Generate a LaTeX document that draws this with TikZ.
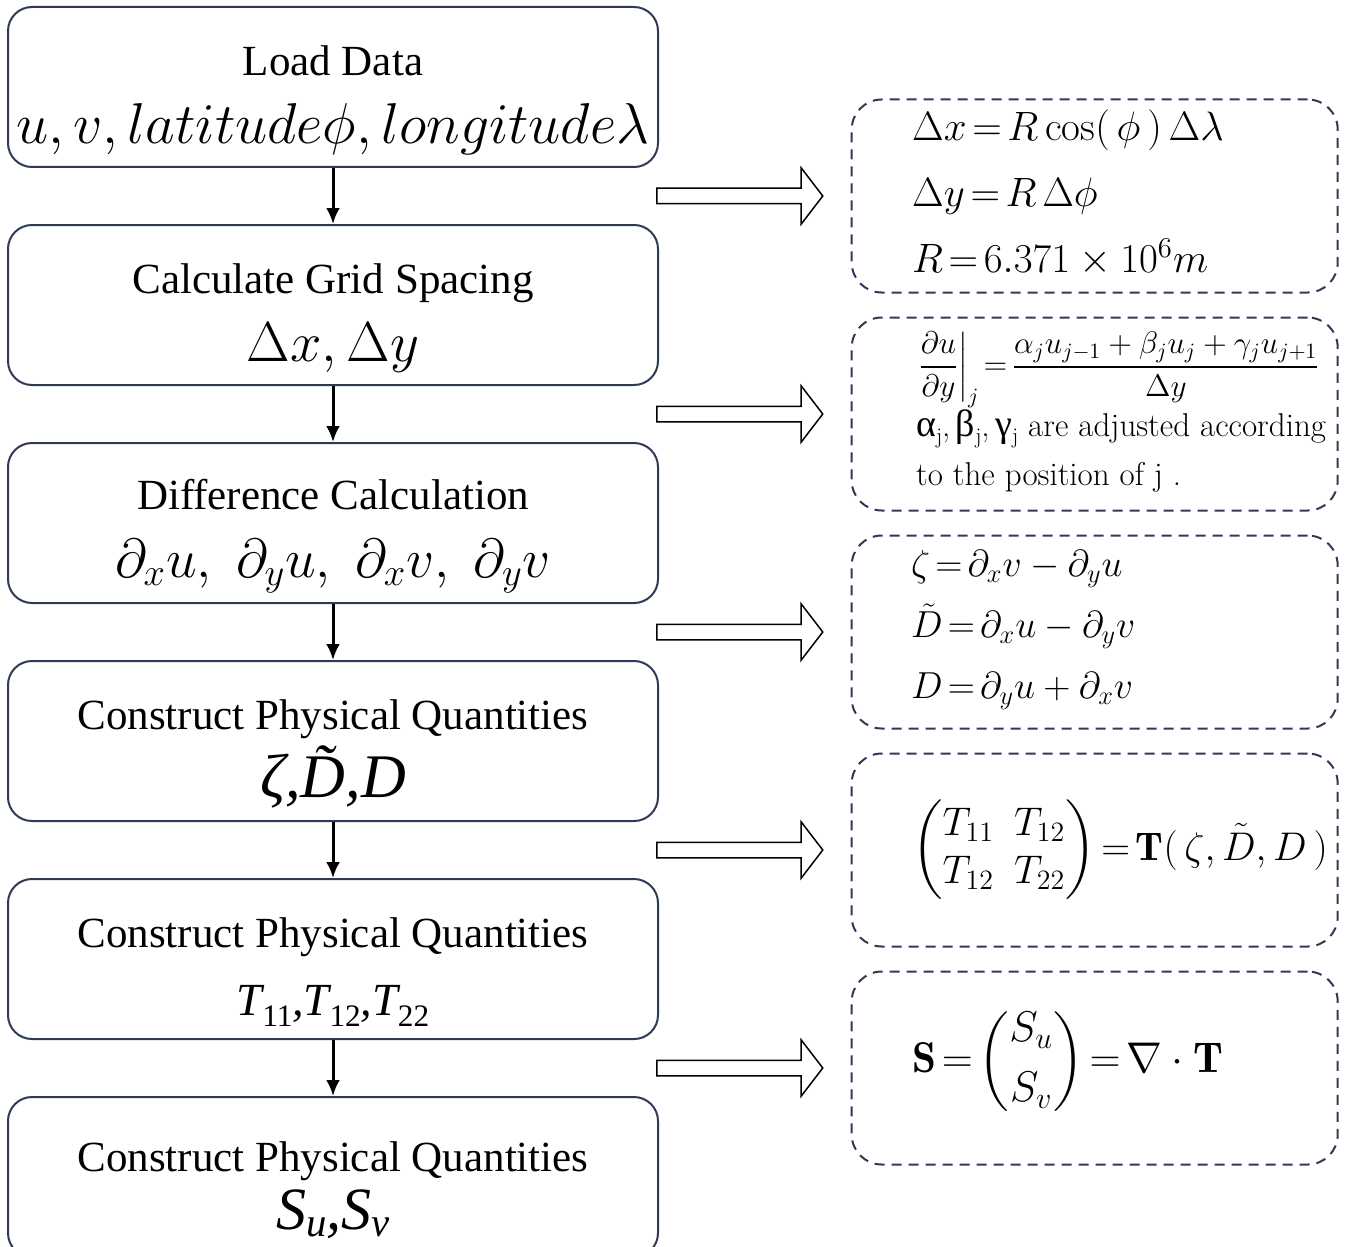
\RequirePackage{fix-cm}
\documentclass[tikz,border=0pt]{standalone}
\usepackage{amsmath}
\usepackage{fontspec}
\usepackage{graphicx}
\usepackage{tikz}
\usetikzlibrary{arrows.meta,positioning,calc,shapes.arrows}
\newfontfamily\tnr{Liberation Serif}
\newfontfamily\grk{Liberation Serif}
\definecolor{boxline}{HTML}{2E3A56}
\newcommand{\lowsub}[2][0.22em]{\raisebox{-#1}{\scalebox{0.68}{#2}}}
\newcommand{\tstrut}{\rule{0pt}{28pt}}
\newcommand{\upg}[1]{{\grk\fontsize{19}{24}\selectfont #1}\lowsub{j}}

\begin{document}
\begin{tikzpicture}[
x=1pt, y=1pt,
node distance=28pt,
block/.style={draw=boxline, line width=1pt, rounded corners=12pt, minimum width=325pt, minimum height=80pt, align=center, inner sep=0pt, font=\tnr\fontsize{21.5}{34}\selectfont},
dbox/.style={draw=boxline, line width=1pt, dash pattern=on 5pt off 3.5pt, rounded corners=15pt, minimum width=243pt, minimum height=96.5pt},
hollow/.style={single arrow, draw, line width=0.75pt, minimum height=83pt, minimum width=0pt, inner xsep=0pt, inner ysep=3.5pt, single arrow head extend=10.25pt, single arrow tip angle=105, anchor=tail},
eqn/.style={anchor=west, align=left, inner sep=0pt, execute at begin node={\thickmuskip=2.5mu}},
arrow/.style={-{Latex[length=8pt,width=7pt]}, line width=1.5pt}
]
\useasboundingbox (0,0) rectangle (676,-623);

% left column
\node[block] (b1) at (166.5,-43.5) {\tstrut Load Data\\{\fontsize{28.8}{34}\selectfont $u,v,latitude\phi,longitude\lambda$}};
\node[block, below=of b1] (b2) {\tstrut Calculate Grid Spacing\\{\fontsize{28.2}{34}\selectfont $\Delta x,\Delta y$}};
\node[block, below=of b2] (b3) {\tstrut Difference Calculation\\{\fontsize{27.5}{34}\selectfont $\partial_x u,\;\partial_y u,\;\partial_x v,\;\partial_y v$}};
\node[block, below=of b3] (b4) {\tstrut Construct Physical Quantities\\{\fontsize{31}{34}\selectfont\itshape ζ,D̃,D}};
\node[block, below=of b4] (b5) {\tstrut Construct Physical Quantities\\{\fontsize{23}{34}\selectfont\itshape T\lowsub{\upshape 11},T\lowsub{\upshape 12},T\lowsub{\upshape 22}}};
\node[block, below=of b5] (b6) {\tstrut Construct Physical Quantities\\[-5pt]{\fontsize{30}{29}\selectfont\itshape S\lowsub[0.12em]{u},S\lowsub[0.12em]{v}}};

\draw[arrow] (b1) -- (b2);
\draw[arrow] (b2) -- (b3);
\draw[arrow] (b3) -- (b4);
\draw[arrow] (b4) -- (b5);
\draw[arrow] (b5) -- (b6);

% right column
\node[hollow] (h1) at ($(b1.south east)!0.5!(b2.north east)+(-1.5,0)$) {};
\node[hollow] (h2) at ($(b2.south east)!0.5!(b3.north east)+(-1.5,0)$) {};
\node[hollow] (h3) at ($(b3.south east)!0.5!(b4.north east)+(-1.5,0)$) {};
\node[hollow] (h4) at ($(b4.south east)!0.5!(b5.north east)+(-1.5,0)$) {};
\node[hollow] (h5) at ($(b5.south east)!0.5!(b6.north east)+(-1.5,0)$) {};

\node[dbox, right=13.5pt of h1.tip] (r1) {};
\node[dbox, right=13.5pt of h2.tip] (r2) {};
\node[dbox, right=13.5pt of h3.tip] (r3) {};
\node[dbox, right=13.5pt of h4.tip] (r4) {};
\node[dbox, right=13.5pt of h5.tip] (r5) {};

\node[eqn, font=\fontsize{20.5}{33}\selectfont] (e1) at ($(r1.west)+(30.5,1.5)$) {$\Delta x=R\cos(\,\phi\,)\,\Delta\lambda$\\$\Delta y=R\;\Delta\phi$\\$R=6.371\times10^{6}m$};
\node[eqn, font=\fontsize{16.5}{24.5}\selectfont] (e2) at ($(r2.west)+(32.5,1)$) {{\fontsize{15.6}{24.5}\selectfont$\left.\dfrac{\partial u}{\partial y}\right|_{j}=\dfrac{\alpha_j u_{j-1}+\beta_j u_j+\gamma_j u_{j+1}}{\Delta y}$}\\\upg{α},\,\upg{β},\,\upg{γ} are adjusted according\\to the position of j .};
\node[eqn, font=\fontsize{18.8}{30.5}\selectfont] (e3) at ($(r3.west)+(30,1)$) {$\zeta=\partial_x v-\partial_y u$\\$\tilde D=\partial_x u-\partial_y v$\\$D=\partial_y u+\partial_x v$};
\node[eqn, font=\fontsize{20}{24}\selectfont] (e4) at ($(r4.west)+(30.5,0)$) {{$\begin{pmatrix}T_{11}&T_{12}\\T_{12}&T_{22}\end{pmatrix}=\mathbf{T}(\,\zeta,\tilde D,D\,)$}};
\node[eqn, font=\fontsize{21.5}{24}\selectfont] (e5) at ($(r5.west)+(30.5,3)$) {{$\mathbf{S}=\begin{pmatrix}S_u\\[6pt]S_v\end{pmatrix}=\nabla\cdot\mathbf{T}$}};
\end{tikzpicture}
\end{document}
